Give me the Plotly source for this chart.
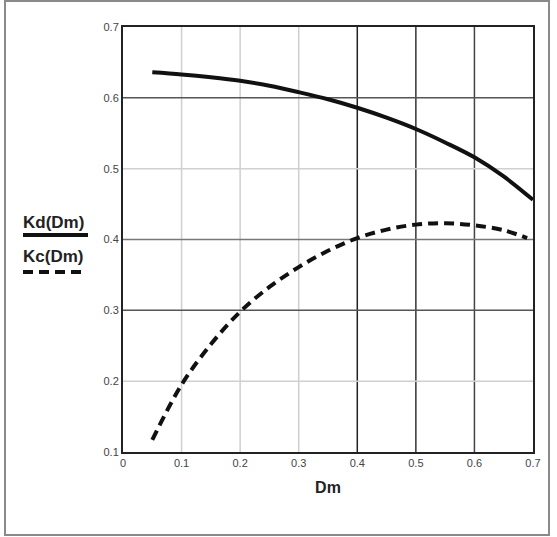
import plotly.graph_objects as go

dm = [0.05, 0.1, 0.15, 0.2, 0.25, 0.3, 0.35, 0.4, 0.45, 0.5, 0.55, 0.6, 0.65, 0.7]
kd = [0.636, 0.633, 0.629, 0.624, 0.617, 0.608, 0.598, 0.586, 0.572, 0.556, 0.537, 0.516, 0.489, 0.456]

dm_c = [0.05, 0.1, 0.15, 0.2, 0.25, 0.3, 0.35, 0.4, 0.45, 0.5, 0.55, 0.6, 0.65, 0.69]
kc = [0.117, 0.195, 0.252, 0.298, 0.333, 0.361, 0.384, 0.402, 0.414, 0.421, 0.423, 0.420, 0.413, 0.402]

x_ticks = [0, 0.1, 0.2, 0.3, 0.4, 0.5, 0.6, 0.7]
y_ticks = [0.1, 0.2, 0.3, 0.4, 0.5, 0.6, 0.7]

# grid colours differ line by line in the original
x_grid = {0.1: "#cfcfcf", 0.2: "#cfcfcf", 0.3: "#cfcfcf", 0.4: "#222", 0.5: "#333", 0.6: "#444"}
y_grid = {0.2: "#d0d0d0", 0.3: "#555", 0.4: "#777", 0.5: "#d0d0d0", 0.6: "#555"}

fig = go.Figure()
fig.add_trace(go.Scatter(x=dm, y=kd, mode="lines", line=dict(color="#111", width=4, shape="spline"),
                         name="Kd(Dm)", showlegend=False))
fig.add_trace(go.Scatter(x=dm_c, y=kc, mode="lines",
                         line=dict(color="#111", width=4, dash="10px,6px", shape="spline"),
                         name="Kc(Dm)", showlegend=False))

shapes = []
for v, c in x_grid.items():
    shapes.append(dict(type="line", xref="x", yref="paper", x0=v, x1=v, y0=0, y1=1,
                       line=dict(color=c, width=1.5), layer="below"))
for v, c in y_grid.items():
    shapes.append(dict(type="line", xref="paper", yref="y", x0=0, x1=1, y0=v, y1=v,
                       line=dict(color=c, width=1.5), layer="below"))

# outer frame of the figure
shapes.append(dict(type="rect", xref="paper", yref="paper",
                   x0=(5 - 123) / 410, x1=(549 - 123) / 410, y0=(452 - 535) / 425, y1=(452 - 1) / 425,
                   line=dict(color="#8a8a8a", width=2)))

# hand-made legend at left
shapes.append(dict(type="line", xref="paper", yref="paper",
                   x0=(23 - 123) / 410, x1=(88 - 123) / 410, y0=(452 - 235) / 425, y1=(452 - 235) / 425,
                   line=dict(color="#111", width=4)))
shapes.append(dict(type="line", xref="paper", yref="paper",
                   x0=(23 - 123) / 410, x1=(85 - 123) / 410, y0=(452 - 272) / 425, y1=(452 - 272) / 425,
                   line=dict(color="#111", width=4, dash="10px,6px")))

annotations = [
    dict(text="<b>Kd(Dm)</b>", xref="paper", yref="paper", x=(21 - 123) / 410, y=(452 - 222) / 425,
         xanchor="left", yanchor="middle", showarrow=False, font=dict(size=17, color="#222")),
    dict(text="<b>Kc(Dm)</b>", xref="paper", yref="paper", x=(21 - 123) / 410, y=(452 - 256) / 425,
         xanchor="left", yanchor="middle", showarrow=False, font=dict(size=17, color="#222")),
]

fig.update_layout(
    width=557, height=537,
    margin=dict(l=123, r=24, t=27, b=85),
    paper_bgcolor="white", plot_bgcolor="white",
    font=dict(family="Liberation Sans, Arial, sans-serif", color="#444", size=11),
    shapes=shapes, annotations=annotations,
    xaxis=dict(range=[0, 0.7], tickvals=x_ticks, ticktext=[str(t) for t in x_ticks],
               showgrid=False, zeroline=False, showline=True, linecolor="#222", linewidth=2,
               mirror=True, ticks="", ticklen=0,
               title=dict(text="<b>Dm</b>", font=dict(size=16, color="#222"), standoff=14)),
    yaxis=dict(range=[0.1, 0.7], tickvals=y_ticks, ticktext=[str(t) for t in y_ticks],
               showgrid=False, zeroline=False, showline=True, linecolor="#222", linewidth=2,
               mirror=True, ticks="", ticklen=0),
)

# drop the page margin so the figure sits at the window corner
fig.write_html("out.html", config={"displayModeBar": False},
               post_script="document.body.style.margin='0';document.body.style.overflow='hidden';")
